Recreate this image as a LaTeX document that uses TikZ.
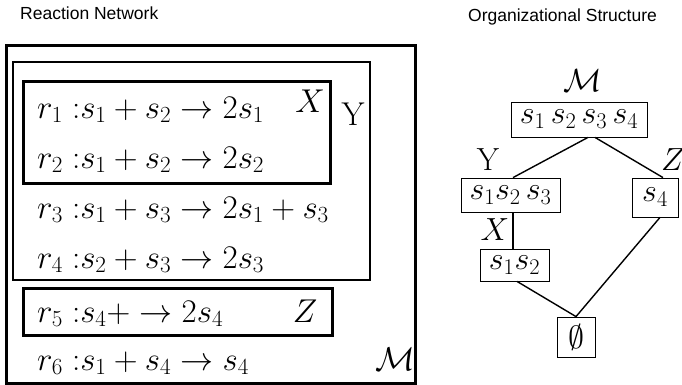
\RequirePackage{fix-cm}
\documentclass[tikz,border=0pt]{standalone}
\usepackage{fontspec}
\newfontfamily\arialf{Liberation Sans}
\tikzset{
  bigbox/.style={line width=3pt},
  reac/.style={anchor=base west, inner sep=0pt, font=\fontsize{33}{38}\selectfont},
  setlab/.style={anchor=base, inner sep=0pt, font=\fontsize{33}{38}\selectfont},
  title/.style={anchor=base west, inner sep=0pt, font=\arialf\fontsize{17.5}{20}\selectfont},
  setbox/.style={draw, line width=0.8pt, inner sep=0pt, font=\fontsize{32}{36}\selectfont},
  glab/.style={anchor=base, inner sep=0pt, font=\fontsize{32}{36}\selectfont},
  edge/.style={line width=1.4pt}
}
\begin{document}
\begin{tikzpicture}[x=1pt,y=-1pt]
\useasboundingbox (0,0) rectangle (682,385);
% titles
\node[title] (t1) at (20,20) {Reaction Network};
\node[title] (t2) at (468,22) {Organizational Structure};
% left boxes
\draw[bigbox] (6,46) rectangle (415,383);
\draw[line width=2.5pt] (13,62) rectangle (370,280);
\draw[bigbox] (23,82) rectangle (330,183);
\draw[bigbox] (23,288) rectangle (332,335);
% reactions
\node[reac] (r1) at (37,118) {$r_1\;{:}s_1 + s_2 \rightarrow 2s_1$};
\node[reac] (r2) at (37,168) {$r_2\;{:}s_1 + s_2 \rightarrow 2s_2$};
\node[reac] (r3) at (37,218) {$r_3\;{:}s_1 + s_3 \rightarrow 2s_1 + s_3$};
\node[reac] (r4) at (37,268) {$r_4\;{:}s_2 + s_3 \rightarrow 2s_3$};
\node[reac] (r5) at (37,322) {$r_5\;{:}s_4{+} \rightarrow 2s_4$};
\node[reac] (r6) at (37,370) {$r_6\;{:}s_1 + s_4 \rightarrow s_4$};
\node[setlab] (lx) at (310,113) {$X$};
\node[setlab] (ly) at (353,125) {Y};
\node[setlab] (lz) at (305,322) {$Z$};
\node[setlab] (lm) at (395,370) {$\mathcal{M}$};
% right lattice
\node[setbox, minimum width=136pt, minimum height=35pt] (top) at (579,119.5) {$s_1\,s_2\,s_3\,s_4$};
\node[setbox, minimum width=99pt, minimum height=34pt] (s123) at (510.5,195) {$s_1s_2\,s_3$};
\node[setbox, minimum width=46pt, minimum height=39pt] (s4) at (655,197.5) {$s_4$};
\node[setbox, minimum width=69pt, minimum height=32pt] (s12) at (514.5,265) {$s_1s_2$};
\node[setbox, minimum width=38pt, minimum height=40pt] (empty) at (576,337) {$\emptyset$};
\node[glab] (gm) at (583,92) {$\mathcal{M}$};
\node[glab] (gy) at (488,170) {Y};
\node[glab] (gz) at (673,170) {$Z$};
\node[glab] (gx) at (495,240) {$X$};
\draw[edge] ([xshift=9]top.south) -- ([xshift=2.5]s123.north);
\draw[edge] ([xshift=16]top.south) -- ([xshift=8]s4.north);
\draw[edge] ([xshift=2.5]s123.south) -- ([xshift=-1.5]s12.north);
\draw[edge] ([xshift=2.5]s12.south) -- (empty.north);
\draw[edge] ([xshift=5]s4.south) -- (empty.north);
\end{tikzpicture}
\end{document}
